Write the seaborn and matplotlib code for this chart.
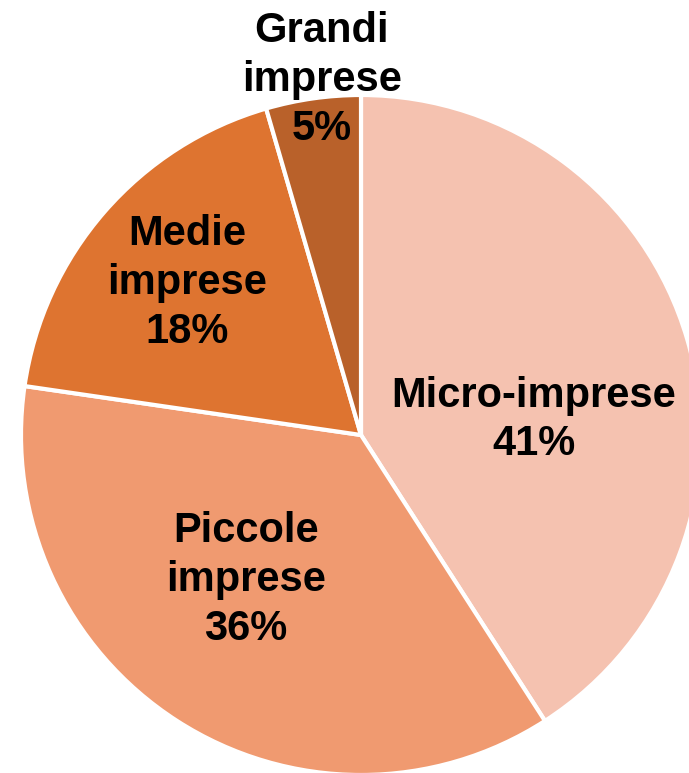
import matplotlib
matplotlib.use("Agg")
import matplotlib.pyplot as plt
import seaborn as sns

sns.set_theme(style="white")
plt.rcParams['font.family'] = ['Liberation Sans', 'DejaVu Sans']

categories = ["Micro-imprese", "Piccole\nimprese", "Medie\nimprese", "Grandi\nimprese"]
values = [40.9, 36.4, 18.2, 4.5]
pct_labels = ["41%", "36%", "18%", "5%"]
colors = ["#F5C2B0", "#F09A70", "#DE7430", "#B9612A"]
# label positions (pixel coords from top-left of the image)
label_pos = [(534, 420), (246, 580), (187, 283), (322, 80)]

W, H = 689, 773
fig = plt.figure(figsize=(W / 100, H / 100), dpi=100)
ax = fig.add_axes([0, 0, 1, 1])
cx, cy, r = 361, H - 435, 340
ax.pie(values, colors=colors, startangle=90, counterclock=False,
       center=(cx, cy), radius=r,
       wedgeprops=dict(edgecolor="white", linewidth=3))
ax.set_xlim(0, W)
ax.set_ylim(0, H)
ax.set_aspect("equal")
ax.axis("off")

for cat, lab, (px, py) in zip(categories, pct_labels, label_pos):
    ax.text(px, H - py, f"{cat}\n{lab}", ha="center", va="center",
            fontsize=30, fontweight="bold", color="black", linespacing=1.28)

fig.savefig("out.png", dpi=100)
